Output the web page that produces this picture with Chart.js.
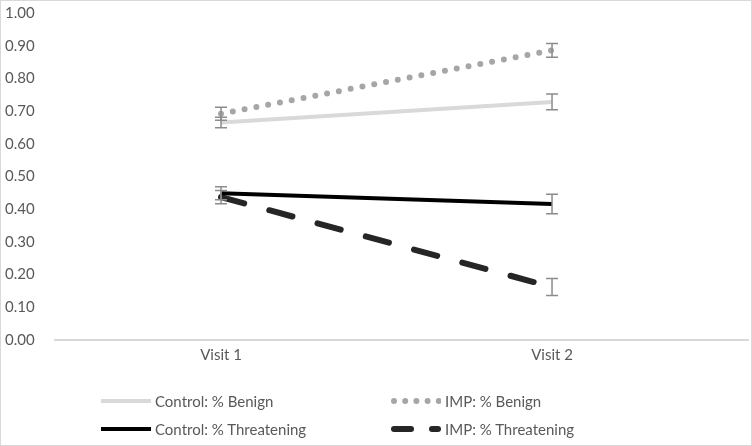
<!DOCTYPE html>
<html><head><meta charset="utf-8">
<script src="https://cdn.jsdelivr.net/npm/chart.js@4"></script>
<style>
html,body{margin:0;padding:0;background:#fff;}
#wrap{position:relative;width:750px;height:444px;border:1px solid #d9d9d9;overflow:hidden;}
canvas{position:absolute;left:-1px;top:-1px;}
.leg{position:absolute;font-family:Lato,"Liberation Sans",sans-serif;font-size:15px;color:#595959;white-space:nowrap;display:flex;align-items:center;}
.leg svg{margin-right:4px;}
</style></head>
<body>
<div id="wrap">
<canvas id="c" width="752" height="446"></canvas>
<div id="legend"></div>
</div>
<script>
const visits = ['Visit 1', 'Visit 2'];
const yTicks = [0, 0.1, 0.2, 0.3, 0.4, 0.5, 0.6, 0.7, 0.8, 0.9, 1.0];
const seriesNames = ['Control: % Benign', 'IMP: % Benign', 'Control: % Threatening', 'IMP: % Threatening'];
const controlBenign = [0.665, 0.728];
const controlBenignErr = [0.016, 0.024];
const impBenign = [0.692, 0.886];
const impBenignErr = [0.02, 0.021];
const controlThreat = [0.449, 0.416];
const controlThreatErr = [0.02, 0.03];
const impThreat = [0.437, 0.162];
const impThreatErr = [0.02, 0.026];

const styles = [
  {color:'#d9d9d9', width:4, dash:[], cap:'butt'},
  {color:'#a6a6a6', width:6, dash:[0,12], cap:'round'},
  {color:'#000000', width:4, dash:[], cap:'butt'},
  {color:'#262626', width:6, dash:[24,26], cap:'round'}
];
const values = [controlBenign, impBenign, controlThreat, impThreat];
const errs = [controlBenignErr, impBenignErr, controlThreatErr, impThreatErr];

const datasets = values.map((v, i) => ({
  label: seriesNames[i],
  data: v.map((y, j) => ({x: j + 1, y})),
  borderColor: styles[i].color,
  borderWidth: styles[i].width,
  borderDash: styles[i].dash,
  borderCapStyle: styles[i].cap,
  pointRadius: 0,
  tension: 0,
  fill: false
}));

const errorBars = {
  id: 'errorBars',
  afterDatasetsDraw(chart) {
    const ctx = chart.ctx, xs = chart.scales.x, ys = chart.scales.y;
    ctx.save();
    ctx.strokeStyle = '#8c8c8c';
    ctx.lineWidth = 1.5;
    ctx.setLineDash([]);
    values.forEach((v, i) => {
      v.forEach((y, j) => {
        const x = xs.getPixelForValue(j + 1);
        const t = ys.getPixelForValue(y + errs[i][j]);
        const b = ys.getPixelForValue(y - errs[i][j]);
        ctx.beginPath();
        ctx.moveTo(x, t); ctx.lineTo(x, b);
        ctx.moveTo(x - 6, t); ctx.lineTo(x + 6, t);
        ctx.moveTo(x - 6, b); ctx.lineTo(x + 6, b);
        ctx.stroke();
      });
    });
    ctx.restore();
  }
};

const font = {family: 'Lato, "Liberation Sans", sans-serif', size: 15};
new Chart(document.getElementById('c'), {
  type: 'line',
  data: {datasets},
  options: {
    responsive: false,
    animation: false,
    layout: {padding: {left: 5, top: 12, right: 4, bottom: 0}},
    plugins: {legend: {display: false}, tooltip: {enabled: false}},
    scales: {
      x: {
        type: 'linear',
        min: 0.4985, max: 2.592,
        afterBuildTicks: s => { s.ticks = visits.map((_, i) => ({value: i + 1})); },
        afterFit: s => { s.height = 106; },
        ticks: {callback: (v) => visits[Math.round(v) - 1], color: '#595959', font, padding: 6, maxRotation: 0},
        grid: {display: false, drawTicks: false},
        border: {display: true, color: '#d9d9d9', width: 2}
      },
      y: {
        min: 0, max: 1,
        afterBuildTicks: s => { s.ticks = yTicks.map(v => ({value: v})); },
        afterFit: s => { s.width = 50; },
        ticks: {callback: v => v.toFixed(2), color: '#595959', font, crossAlign: 'far', padding: 4},
        grid: {display: false, drawTicks: false},
        border: {display: false}
      }
    }
  },
  plugins: [errorBars]
});

// HTML legend built from the same series definitions
const legendPos = [[100, 402], [390, 402], [100, 430], [390, 430]];
const leg = document.getElementById('legend');
seriesNames.forEach((name, i) => {
  const st = styles[i];
  const d = document.createElement('div');
  d.className = 'leg';
  d.style.left = legendPos[i][0] + 'px';
  d.style.top = (legendPos[i][1] - 11) + 'px';
  let sample;
  if (i === 1) {
    sample = `<svg width="50" height="10"><line x1="3" y1="5" x2="48" y2="5" stroke="${st.color}" stroke-width="6" stroke-linecap="round" stroke-dasharray="0 11.2"/></svg>`;
  } else if (i === 3) {
    sample = `<svg width="50" height="10"><line x1="3" y1="5" x2="20" y2="5" stroke="${st.color}" stroke-width="6" stroke-linecap="round"/><line x1="41" y1="5" x2="47" y2="5" stroke="${st.color}" stroke-width="6" stroke-linecap="round"/></svg>`;
  } else {
    sample = `<svg width="50" height="10"><line x1="0" y1="5" x2="50" y2="5" stroke="${st.color}" stroke-width="4"/></svg>`;
  }
  d.innerHTML = sample + '<span>' + name + '</span>';
  leg.appendChild(d);
});
</script>
</body></html>
